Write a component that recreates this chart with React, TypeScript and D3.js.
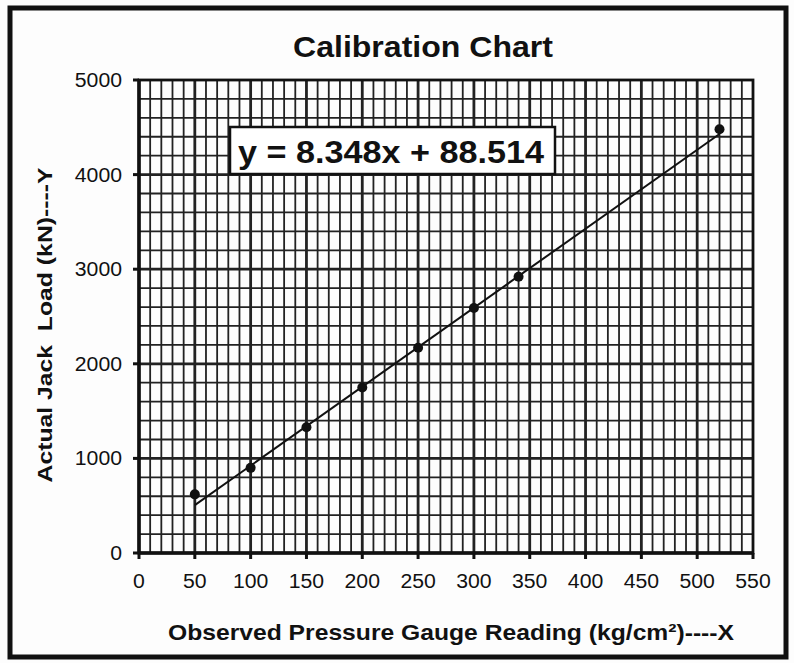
import React, { useEffect, useRef } from 'react';
import * as d3 from 'd3';

// Observed gauge readings (kg/cm²) and measured jack loads (kN)
const gaugeReadings = [50, 100, 150, 200, 250, 300, 340, 520];
const jackLoads = [620, 900, 1330, 1750, 2170, 2590, 2920, 4480];

const xTicks = [0, 50, 100, 150, 200, 250, 300, 350, 400, 450, 500, 550];
const yTicks = [0, 1000, 2000, 3000, 4000, 5000];

const slope = 8.348;
const intercept = 88.514;

const App: React.FC = () => {
  const svgRef = useRef<SVGSVGElement>(null);

  useEffect(() => {
    if (!svgRef.current) return;
    const svg = d3.select(svgRef.current);
    svg.selectAll('*').remove();

    const width = 794;
    const height = 663;
    const margin = { top: 80, right: 41, bottom: 110, left: 139 };
    const font = "'Liberation Sans', Arial, sans-serif";
    const ink = '#111';

    svg.append('rect').attr('width', width).attr('height', height).attr('fill', '#fdfdfd');
    // outer frame
    svg.append('rect')
      .attr('x', 10).attr('y', 8).attr('width', 776).attr('height', 649)
      .attr('fill', 'none').attr('stroke', ink).attr('stroke-width', 5);

    const x = d3.scaleLinear().domain([0, 550]).range([margin.left, width - margin.right]);
    const y = d3.scaleLinear().domain([0, 5000]).range([height - margin.bottom, margin.top]);

    const grid = svg.append('g');
    // verticals every 10 (heavy every 50), horizontals every 200 (heavy every 1000)
    grid.selectAll('.v').data(d3.range(10, 550, 10)).enter().append('line')
      .attr('x1', d => x(d)).attr('x2', d => x(d))
      .attr('y1', y(0)).attr('y2', y(5000))
      .attr('stroke', '#222').attr('stroke-width', d => d % 50 === 0 ? 2.8 : 1.8);
    grid.selectAll('.h').data(d3.range(200, 5000, 200)).enter().append('line')
      .attr('y1', d => y(d)).attr('y2', d => y(d))
      .attr('x1', x(0)).attr('x2', x(550))
      .attr('stroke', '#222').attr('stroke-width', d => d % 1000 === 0 ? 2.8 : 1.8);

    // plot frame
    svg.append('rect')
      .attr('x', x(0)).attr('y', y(5000))
      .attr('width', x(550) - x(0)).attr('height', y(0) - y(5000))
      .attr('fill', 'none').attr('stroke', ink).attr('stroke-width', 2.8);
    svg.append('line').attr('x1', x(0)).attr('x2', x(550)).attr('y1', y(0)).attr('y2', y(0))
      .attr('stroke', ink).attr('stroke-width', 3.5);
    svg.append('line').attr('x1', x(0)).attr('x2', x(0)).attr('y1', y(0)).attr('y2', y(5000))
      .attr('stroke', ink).attr('stroke-width', 3.5);

    // ticks
    svg.selectAll('.xt').data(xTicks).enter().append('line')
      .attr('x1', d => x(d)).attr('x2', d => x(d)).attr('y1', y(0)).attr('y2', y(0) + 6)
      .attr('stroke', ink).attr('stroke-width', 3);
    svg.selectAll('.yt').data(yTicks).enter().append('line')
      .attr('x1', x(0) - 6).attr('x2', x(0)).attr('y1', d => y(d)).attr('y2', d => y(d))
      .attr('stroke', ink).attr('stroke-width', 3);

    const digitW = 11.8;
    svg.selectAll('.xl').data(xTicks).enter().append('text')
      .attr('x', d => x(d)).attr('y', y(0) + 35)
      .attr('text-anchor', 'middle').attr('font-family', font).attr('font-size', 20)
      .attr('textLength', d => String(d).length * digitW).attr('lengthAdjust', 'spacingAndGlyphs')
      .attr('fill', ink).text(d => d);
    svg.selectAll('.yl').data(yTicks).enter().append('text')
      .attr('x', x(0) - 17).attr('y', d => y(d) + 7)
      .attr('text-anchor', 'end').attr('font-family', font).attr('font-size', 20)
      .attr('textLength', d => String(d).length * digitW).attr('lengthAdjust', 'spacingAndGlyphs')
      .attr('fill', ink).text(d => d);

    // trendline across the observed range
    const xMin = d3.min(gaugeReadings) as number;
    const xMax = d3.max(gaugeReadings) as number;
    svg.append('line')
      .attr('x1', x(xMin)).attr('y1', y(slope * xMin + intercept))
      .attr('x2', x(xMax)).attr('y2', y(slope * xMax + intercept))
      .attr('stroke', ink).attr('stroke-width', 2);

    svg.selectAll('.pt').data(gaugeReadings).enter().append('circle')
      .attr('cx', d => x(d)).attr('cy', (_, i) => y(jackLoads[i]))
      .attr('r', 5).attr('fill', ink);

    // equation box
    svg.append('rect')
      .attr('x', 230).attr('y', 127).attr('width', 325).attr('height', 47)
      .attr('fill', '#fff').attr('stroke', ink).attr('stroke-width', 2.5);
    svg.append('text')
      .attr('x', 391).attr('y', 163).attr('text-anchor', 'middle')
      .attr('font-family', font).attr('font-weight', 'bold').attr('font-size', 32)
      .attr('textLength', 306).attr('lengthAdjust', 'spacingAndGlyphs')
      .attr('fill', ink).text(`y = ${slope}x + ${intercept}`);

    // title and axis titles
    svg.append('text')
      .attr('x', 423).attr('y', 57).attr('text-anchor', 'middle')
      .attr('font-family', font).attr('font-weight', 'bold').attr('font-size', 30)
      .attr('textLength', 260).attr('lengthAdjust', 'spacingAndGlyphs')
      .attr('fill', ink).text('Calibration Chart');
    svg.append('text')
      .attr('x', 451).attr('y', 640).attr('text-anchor', 'middle')
      .attr('font-family', font).attr('font-weight', 'bold').attr('font-size', 22)
      .attr('textLength', 566).attr('lengthAdjust', 'spacingAndGlyphs')
      .attr('fill', ink).text('Observed Pressure Gauge Reading (kg/cm²)----X');
    svg.append('text')
      .attr('transform', 'translate(52,325) rotate(-90)').attr('text-anchor', 'middle')
      .attr('font-family', font).attr('font-weight', 'bold').attr('font-size', 21)
      .attr('textLength', 315).attr('lengthAdjust', 'spacingAndGlyphs')
      .attr('xml:space', 'preserve')
      .attr('fill', ink).text('Actual Jack  Load (kN)----Y');
  }, []);

  return (
    <svg ref={svgRef} width={794} height={663}
      style={{ position: 'absolute', left: 0, top: 0, display: 'block' }} />
  );
};

export default App;
